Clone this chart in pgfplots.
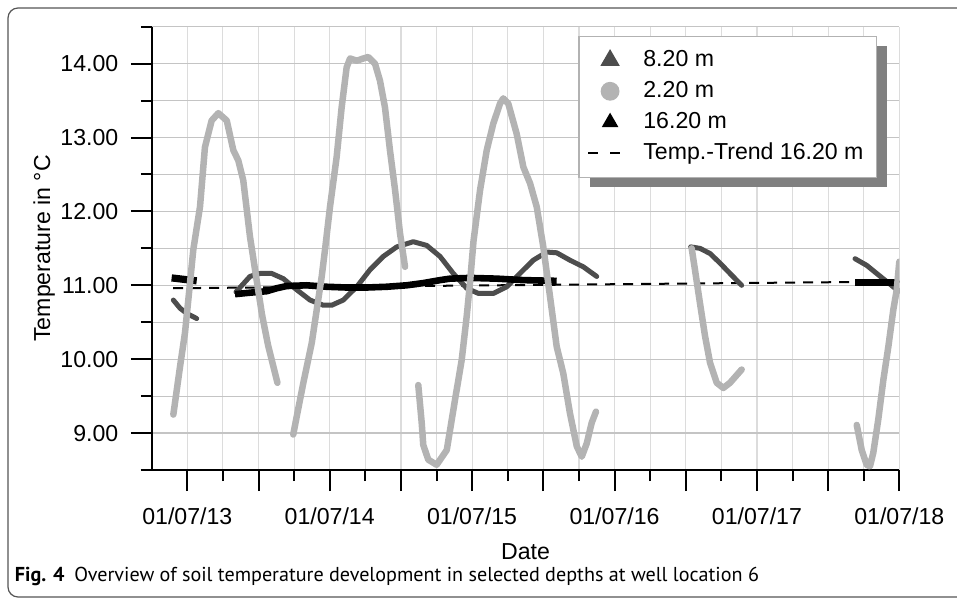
\documentclass[border=0pt]{standalone}
\usepackage{pgfplots}
\pgfplotsset{compat=1.18}
\usepackage{fontspec}
\setmainfont{Liberation Sans}
\newfontfamily\capfont{PT Sans}
\usetikzlibrary{shadows}
\definecolor{lgray}{HTML}{B3B3B3}
\definecolor{dgray}{HTML}{4D4D4D}
\definecolor{hgrid}{HTML}{C4C4C4}
\definecolor{vgrid}{HTML}{DCDCDC}
\definecolor{shadowgray}{HTML}{808080}
\definecolor{framegray}{HTML}{555555}
% legend images built with basic pgf paths so that the legend's drop shadow does not copy them
\pgfplotsset{
  markleg/.style={legend image code/.code={%
    \pgfpathmoveto{\pgfpoint{0bp}{0bp}}\pgfpathlineto{\pgfpoint{25.75bp}{0bp}}\pgfusepath{}%
    \draw[##1] plot coordinates {(11.6bp,0bp)};}},
  dashleg/.style={legend image code/.code={%
    \pgfpathmoveto{\pgfpoint{0bp}{0bp}}\pgfpathlineto{\pgfpoint{25.75bp}{0bp}}\pgfusepath{}%
    \begin{pgfscope}\pgfsetlinewidth{1bp}\pgfsetdash{{5bp}{6bp}}{0bp}\pgfsetstrokecolor{black}%
    \pgfpathmoveto{\pgfpoint{0.75bp}{0bp}}\pgfpathlineto{\pgfpoint{16.75bp}{0bp}}\pgfusepath{stroke}%
    \end{pgfscope}}},
}

\begin{document}
\fontsize{11.6}{14}\selectfont
\begin{tikzpicture}
\useasboundingbox (-75.85bp,-66.5bp) rectangle (402.65bp,235bp);
\draw[framegray, line width=0.6bp, rounded corners=5bp] (-71.85bp,-63.5bp) rectangle (430bp,231bp);
\node[anchor=base west, font=\capfont\fontsize{10.1}{12}\selectfont, inner sep=0pt] at (-68.6bp,-55.5bp)
  {\textbf{Fig. 4}\hspace{5bp}Overview of soil temperature development in selected depths at well location 6};
\begin{axis}[
  at={(0,0)}, anchor=south west,
  scale only axis, width=373.8bp, height=221.65bp,
  xmin=2013.25, xmax=2018.5, ymin=8.5, ymax=14.5,
  axis lines*=left,
  axis line style={line width=1bp, black},
  x axis line style={shorten <=-5.5bp},
  tick align=outside,
  major tick length=10.5bp, minor tick length=5.5bp,
  every tick/.style={black, line width=1bp},
  xtick={2013.5,2014,2014.5,2015,2015.5,2016,2016.5,2017,2017.5,2018,2018.5},
  xticklabels={01/07/13,,01/07/14,,01/07/15,,01/07/16,,01/07/17,,01/07/18},
  minor xtick={2013.75,2014.25,2014.75,2015.25,2015.75,2016.25,2016.75,2017.25,2017.75,2018.25},
  ytick={9,10,11,12,13,14},
  yticklabels={9.00,10.00,11.00,12.00,13.00,14.00},
  minor ytick={9.5,10.5,11.5,12.5,13.5,14.5},
  xticklabel style={yshift=-4.5bp},
  yticklabel style={xshift=-2.2bp},
  grid=both,
  x grid style={vgrid, line width=0.6bp},
  y grid style={hgrid, line width=0.6bp},
  xlabel={Date}, ylabel={Temperature in °C},
  every axis x label/.style={at={(axis description cs:0.5,-0.2008)}, anchor=base},
  every axis y label/.style={at={(axis description cs:-0.136,0.5)}, rotate=90, anchor=base},
  legend cell align=left,
  legend style={at={(0.970,0.980)}, anchor=north east, draw=gray!60, line width=0.6bp,
    fill=white, inner xsep=3.9bp, inner ysep=4.3bp,
    drop shadow={shadow xshift=5.25bp, shadow yshift=-5bp, fill=shadowgray, opacity=1},
    nodes={inner xsep=2.5bp, inner ysep=2.4bp, text height=8.3bp, text depth=2.4bp}},
]
% legend images
\addlegendimage{only marks, mark=triangle*, mark size=5bp, color=dgray, markleg}
\addlegendentry{8.20 m}
\addlegendimage{only marks, mark=*, mark size=4.4bp, color=lgray, markleg}
\addlegendentry{2.20 m}
\addlegendimage{only marks, mark=triangle*, mark size=4.2bp, color=black, markleg}
\addlegendentry{16.20 m}
\addlegendimage{black, dashleg}
\addlegendentry{Temp.-Trend 16.20 m}

% trend 16.20 m
\addplot[forget plot, black, line width=1bp, dash pattern=on 5bp off 4bp]
  coordinates {(2013.40,10.96) (2018.5,11.05)};

% 8.20 m
\addplot[forget plot, dgray, line width=2.5bp, line join=round, line cap=round]
  coordinates {(2013.402,10.80) (2013.449,10.69) (2013.496,10.62) (2013.566,10.55)};
\addplot[forget plot, dgray, line width=2.5bp, line join=round, line cap=round]
  coordinates {(2013.842,10.91) (2013.940,11.12) (2014.011,11.16) (2014.093,11.16) (2014.174,11.09)
  (2014.268,10.94) (2014.362,10.80) (2014.455,10.73) (2014.514,10.73) (2014.595,10.80) (2014.690,10.98)
  (2014.783,11.21) (2014.876,11.39) (2014.971,11.52) (2015.087,11.59) (2015.181,11.54) (2015.275,11.39)
  (2015.368,11.16) (2015.462,10.96) (2015.544,10.89) (2015.649,10.89) (2015.743,10.98) (2015.836,11.16)
  (2015.930,11.34) (2016.024,11.45) (2016.094,11.44) (2016.187,11.34) (2016.281,11.25) (2016.375,11.12)};
\addplot[forget plot, dgray, line width=2.5bp, line join=round, line cap=round]
  coordinates {(2017.035,11.52) (2017.100,11.50) (2017.171,11.43) (2017.241,11.30) (2017.311,11.16) (2017.393,11.00)};
\addplot[forget plot, dgray, line width=2.5bp, line join=round, line cap=round]
  coordinates {(2018.189,11.36) (2018.271,11.27) (2018.341,11.16) (2018.412,11.05) (2018.470,10.96) (2018.5,10.92)};

% 16.20 m
\addplot[forget plot, black, line width=3.6bp, line join=round]
  coordinates {(2013.390,11.10) (2013.566,11.06)};
\addplot[forget plot, black, line width=3.3bp, line join=round]
  coordinates {(2013.835,10.88) (2013.940,10.90) (2014.058,10.92) (2014.128,10.96) (2014.198,10.99)
  (2014.338,11.00) (2014.479,10.98) (2014.619,10.97) (2014.760,10.97) (2014.900,10.98) (2015.041,11.00)
  (2015.157,11.03) (2015.275,11.07) (2015.345,11.09) (2015.485,11.10) (2015.673,11.09) (2015.860,11.07)
  (2016.094,11.06)};
\addplot[forget plot, black, line width=3.3bp]
  coordinates {(2018.189,11.04) (2018.5,11.04)};

% 2.20 m
\addplot[forget plot, lgray, line width=3.25bp, line join=round, line cap=round]
  coordinates {(2013.402,9.25) (2013.449,9.90) (2013.484,10.36) (2013.519,11.03) (2013.542,11.48)
  (2013.589,12.06) (2013.624,12.87) (2013.671,13.23) (2013.718,13.33) (2013.777,13.23) (2013.823,12.83)
  (2013.858,12.69) (2013.893,12.42) (2013.940,11.66) (2013.987,11.07) (2014.025,10.60) (2014.067,10.19)
  (2014.133,9.68)};
\addplot[forget plot, lgray, line width=3.25bp, line join=round, line cap=round]
  coordinates {(2014.244,8.98) (2014.268,9.22) (2014.315,9.68) (2014.374,10.22) (2014.409,10.67)
  (2014.444,11.12) (2014.467,11.48) (2014.502,12.06) (2014.549,12.74) (2014.584,13.41) (2014.619,13.95)
  (2014.643,14.07) (2014.690,14.04) (2014.736,14.07) (2014.771,14.09) (2014.818,14.00) (2014.853,13.77)
  (2014.888,13.41) (2014.923,12.83) (2014.959,12.29) (2014.994,11.70) (2015.029,11.25)};
\addplot[forget plot, lgray, line width=3.25bp, line join=round, line cap=round]
  coordinates {(2015.122,9.65) (2015.146,9.14) (2015.157,8.84) (2015.192,8.64) (2015.251,8.57)
  (2015.322,8.77) (2015.380,9.45) (2015.427,9.99) (2015.462,10.58) (2015.485,11.03) (2015.510,11.60)
  (2015.556,12.29) (2015.603,12.83) (2015.649,13.19) (2015.696,13.46) (2015.719,13.53) (2015.754,13.46)
  (2015.813,13.05) (2015.860,12.60) (2015.907,12.38) (2015.954,12.06) (2016.000,11.52) (2016.047,10.85)
  (2016.094,10.17) (2016.140,9.81) (2016.187,9.27) (2016.235,8.82) (2016.270,8.68) (2016.305,8.86)
  (2016.340,9.14) (2016.370,9.29)};
\addplot[forget plot, lgray, line width=3.25bp, line join=round, line cap=round]
  coordinates {(2017.042,11.50) (2017.065,11.21) (2017.100,10.76) (2017.136,10.31) (2017.171,9.95)
  (2017.218,9.68) (2017.264,9.61) (2017.311,9.68) (2017.393,9.86)};
\addplot[forget plot, lgray, line width=3.25bp, line join=round, line cap=round]
  coordinates {(2018.201,9.11) (2018.236,8.77) (2018.271,8.57) (2018.294,8.55) (2018.317,8.73)
  (2018.352,9.18) (2018.388,9.72) (2018.423,10.17) (2018.458,10.67) (2018.482,10.94) (2018.500,11.32)};
\end{axis}
\end{tikzpicture}
\end{document}
